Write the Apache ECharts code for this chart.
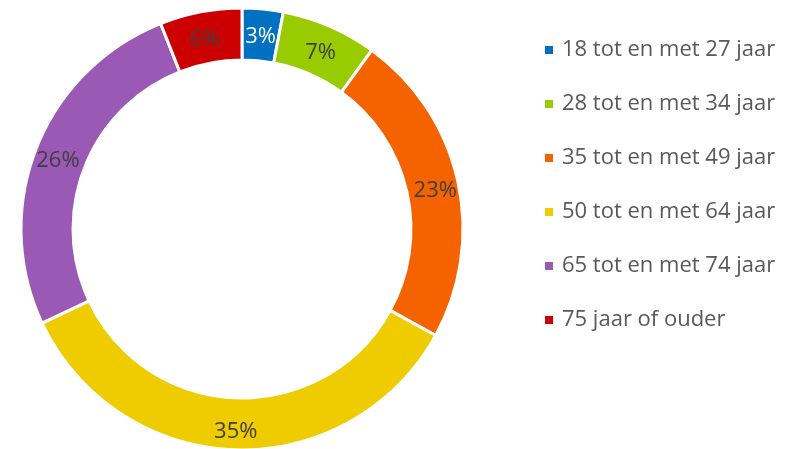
<!DOCTYPE html>
<html>
<head>
<meta charset="utf-8">
<script src="https://cdn.jsdelivr.net/npm/echarts@6/dist/echarts.min.js"></script>
<style>
  html, body { margin: 0; padding: 0; background: #fff; }
  #chart { width: 796px; height: 449px; }
</style>
</head>
<body>
<div id="chart"></div>
<script>
// leeftijdsgroepen
const categories = ['18 tot en met 27 jaar', '28 tot en met 34 jaar', '35 tot en met 49 jaar',
  '50 tot en met 64 jaar', '65 tot en met 74 jaar', '75 jaar of ouder'];
const values = [3, 7, 23, 35, 26, 6];
const colors = ['#0070C0', '#99CC00', '#F56200', '#EECC00', '#9B59B6', '#CC0000'];
const labelColors = ['#ffffff', '#404040', '#404040', '#404040', '#404040', '#404040'];

const chart = echarts.init(document.getElementById('chart'));

const option = {
  animation: false,
  color: colors,
  legend: {
    orient: 'vertical',
    left: 538,
    top: 34,
    itemWidth: 10,
    itemHeight: 10,
    itemGap: 32,
    icon: 'rect',
    textStyle: { fontFamily: 'Open Sans', fontSize: 22, color: '#595959', padding: [0, 0, 0, 3] },
    data: categories
  },
  series: [{
    type: 'pie',
    center: [242, 229],
    radius: [169, 221],
    startAngle: 90,
    clockwise: true,
    itemStyle: { borderColor: '#ffffff', borderWidth: 3 },
    label: {
      show: true,
      position: 'inside',
      formatter: '{d}%',
      fontFamily: 'Open Sans',
      fontSize: 22,
      offset: [0, 5]
    },
    labelLine: { show: false },
    emphasis: { disabled: true },
    data: categories.map((name, i) => ({
      name: name,
      value: values[i],
      label: { color: labelColors[i] }
    }))
  }]
};

chart.setOption(option);
</script>
</body>
</html>
